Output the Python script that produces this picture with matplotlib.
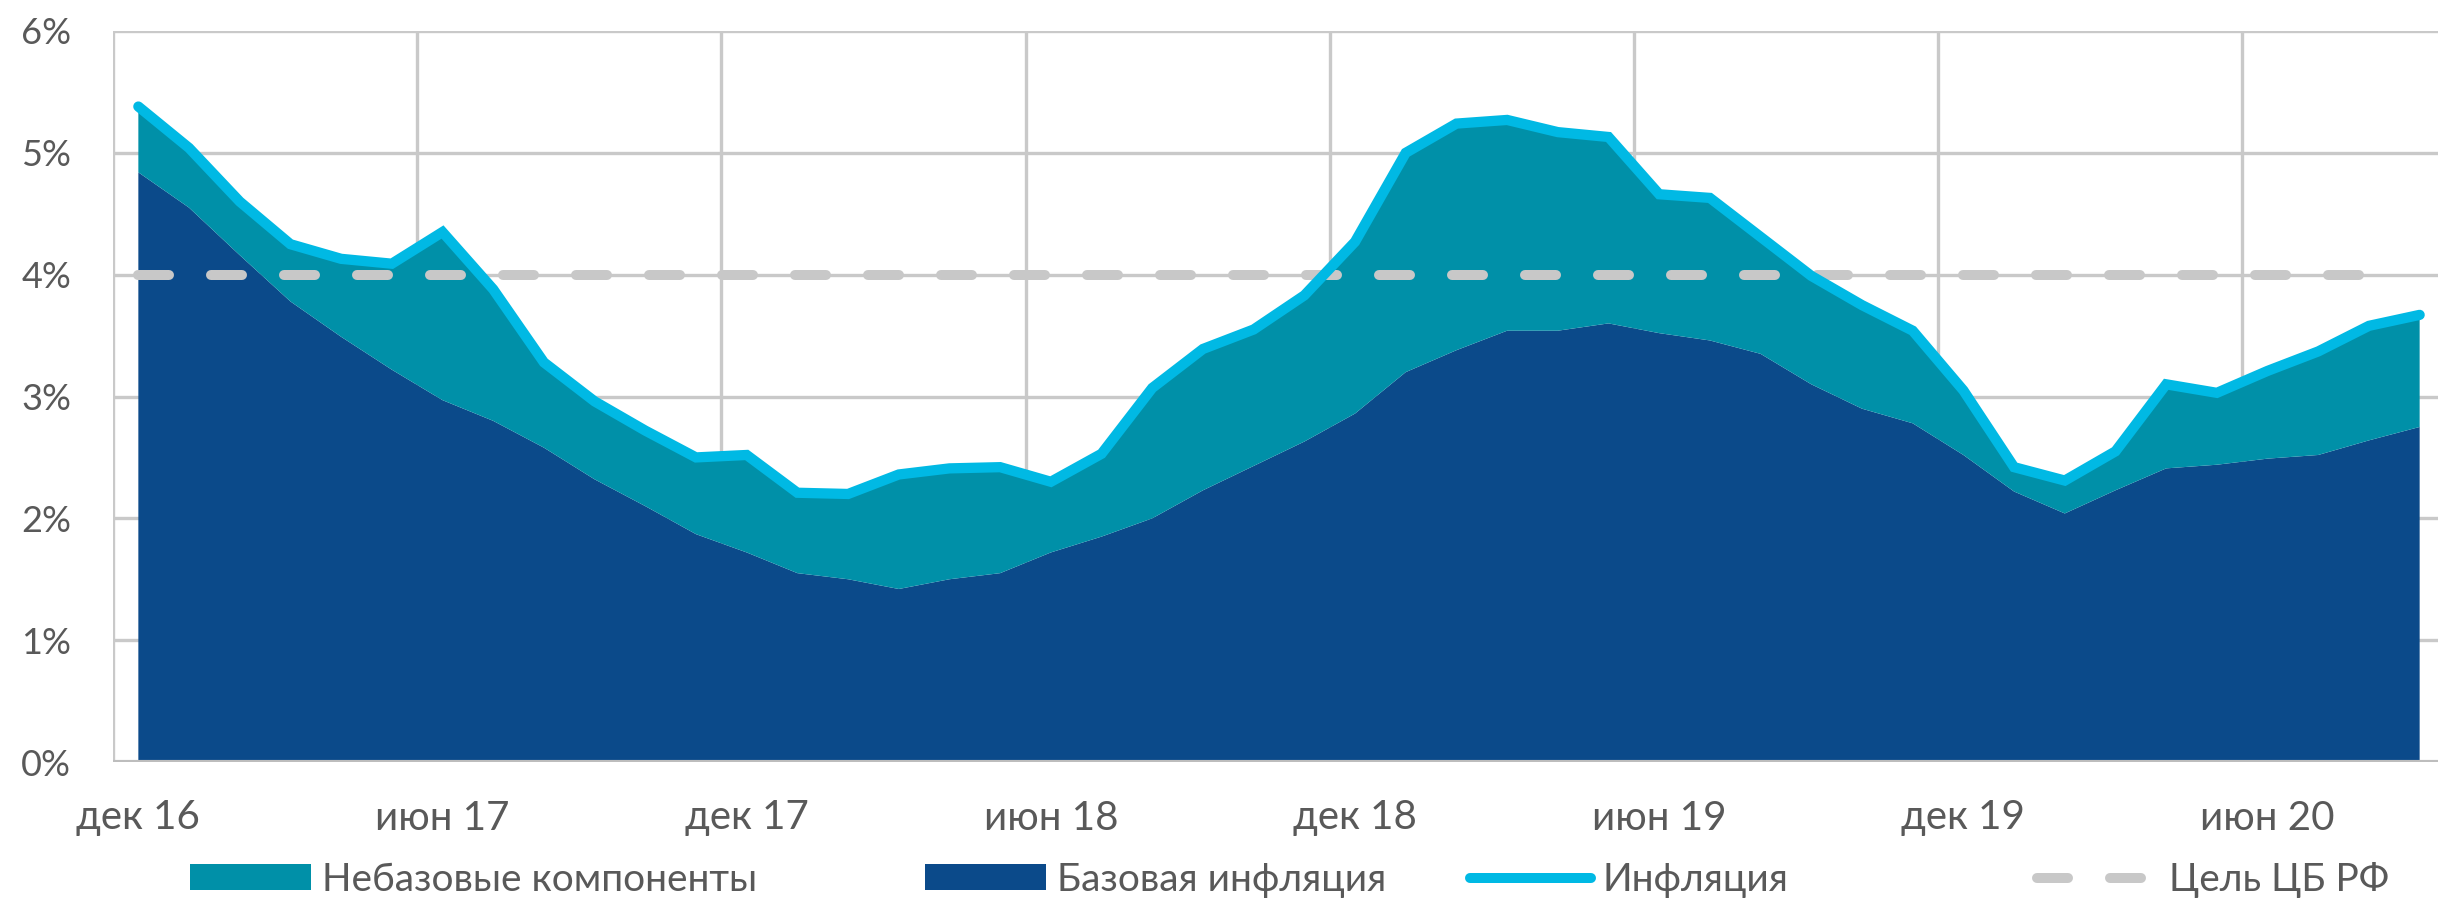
import matplotlib
matplotlib.use("Agg")
import matplotlib.pyplot as plt
import numpy as np
from matplotlib.lines import Line2D
from matplotlib.patches import Patch

plt.rcParams['font.family'] = ['Lato', 'DejaVu Sans']

# Monthly data, Dec 2016 .. Sep 2020
months = ["дек 16", "янв 17", "фев 17", "мар 17", "апр 17", "май 17", "июн 17", "июл 17", "авг 17", "сен 17", "окт 17", "ноя 17",
          "дек 17", "янв 18", "фев 18", "мар 18", "апр 18", "май 18", "июн 18", "июл 18", "авг 18", "сен 18", "окт 18", "ноя 18",
          "дек 18", "янв 19", "фев 19", "мар 19", "апр 19", "май 19", "июн 19", "июл 19", "авг 19", "сен 19", "окт 19", "ноя 19",
          "дек 19", "янв 20", "фев 20", "мар 20", "апр 20", "май 20", "июн 20", "июл 20", "авг 20", "сен 20"]

inflation = [5.38, 5.04, 4.60, 4.25, 4.13, 4.09, 4.35, 3.88, 3.28, 2.96, 2.72, 2.50,
             2.52, 2.21, 2.20, 2.36, 2.41, 2.42, 2.30, 2.53, 3.07, 3.39, 3.55, 3.83,
             4.27, 5.00, 5.24, 5.27, 5.17, 5.13, 4.66, 4.63, 4.31, 3.99, 3.75, 3.54,
             3.05, 2.42, 2.31, 2.55, 3.10, 3.03, 3.21, 3.37, 3.58, 3.67]

core = [4.84, 4.55, 4.16, 3.78, 3.49, 3.22, 2.97, 2.80, 2.58, 2.32, 2.10, 1.87,
        1.72, 1.55, 1.50, 1.42, 1.50, 1.55, 1.72, 1.85, 2.00, 2.23, 2.43, 2.63,
        2.86, 3.20, 3.38, 3.54, 3.54, 3.60, 3.52, 3.46, 3.35, 3.10, 2.90, 2.78,
        2.52, 2.22, 2.04, 2.23, 2.41, 2.44, 2.49, 2.52, 2.64, 2.75]

# CBR target line (drawn through Aug 20)
target = [4.0] * 45

tick_every = 6
y_ticks = [0, 1, 2, 3, 4, 5, 6]

c_core = "#0B4A8A"
c_noncore = "#0090A8"
c_infl = "#00B9E4"
c_target = "#C8C8C8"
c_grid = "#C9C9C9"
c_text = "#595959"

W, H = 2438, 901
fig = plt.figure(figsize=(W / 100, H / 100), dpi=100)
x0, x1 = 113, 2445
y_top, y_bot = 31, 762
ax = fig.add_axes([x0 / W, (H - y_bot) / H, (x1 - x0) / W, (y_bot - y_top) / H])

x = np.arange(len(months))
core_a = np.array(core)
noncore_a = np.array(inflation) - core_a

ax.stackplot(x, core_a, noncore_a, colors=[c_core, c_noncore], linewidth=0, zorder=2)
ax.plot(np.arange(len(target)), target, color=c_target, lw=7.2, dashes=(3.1, 4.2),
        dash_capstyle='round', zorder=3)
ax.plot(x, inflation, color=c_infl, lw=7.4, solid_capstyle='round', solid_joinstyle='miter', zorder=4)

ax.set_xlim(-0.5, len(months) - 0.5)
ax.set_ylim(0, 6)

# grid
for v in y_ticks:
    ax.axhline(v, color=c_grid, lw=2.4, zorder=1)
for g in np.arange(-0.5, len(months), tick_every):
    ax.axvline(g, color=c_grid, lw=2.4, zorder=1)
ax.axhline(0, color="#BDBDBD", lw=3, zorder=5)

for s in ax.spines.values():
    s.set_visible(False)

ax.set_yticks(y_ticks)
ax.set_yticklabels([f"{v}%" for v in y_ticks])
ax.set_xticks(x[::tick_every])
ax.set_xticklabels(months[::tick_every])
ax.tick_params(axis='both', length=0, colors=c_text)
ax.tick_params(axis='y', pad=30, labelsize=26)
ax.tick_params(axis='x', pad=27, labelsize=29)

# legend: four entries placed individually
fs = 28
entries = [
    (Patch(facecolor=c_noncore, edgecolor='none'), "Небазовые компоненты", 190),
    (Patch(facecolor=c_core, edgecolor='none'), "Базовая инфляция", 925),
    (Line2D([], [], color=c_infl, lw=7.2, solid_capstyle='round'), "Инфляция", 1470),
    (Line2D([], [], color=c_target, lw=7.2, dashes=(3.1, 4.2), dash_capstyle='round'), "Цель ЦБ РФ", 2037),
]
for h, lab, px in entries:
    leg = fig.legend([h], [lab], loc='center left', bbox_to_anchor=(px / W, (H - 880) / H),
                     frameon=False, fontsize=fs, handlelength=3.1, handleheight=0.65,
                     handletextpad=0.3, borderpad=0, borderaxespad=0)
    for t in leg.get_texts():
        t.set_color(c_text)

fig.savefig("out.png", dpi=100)
